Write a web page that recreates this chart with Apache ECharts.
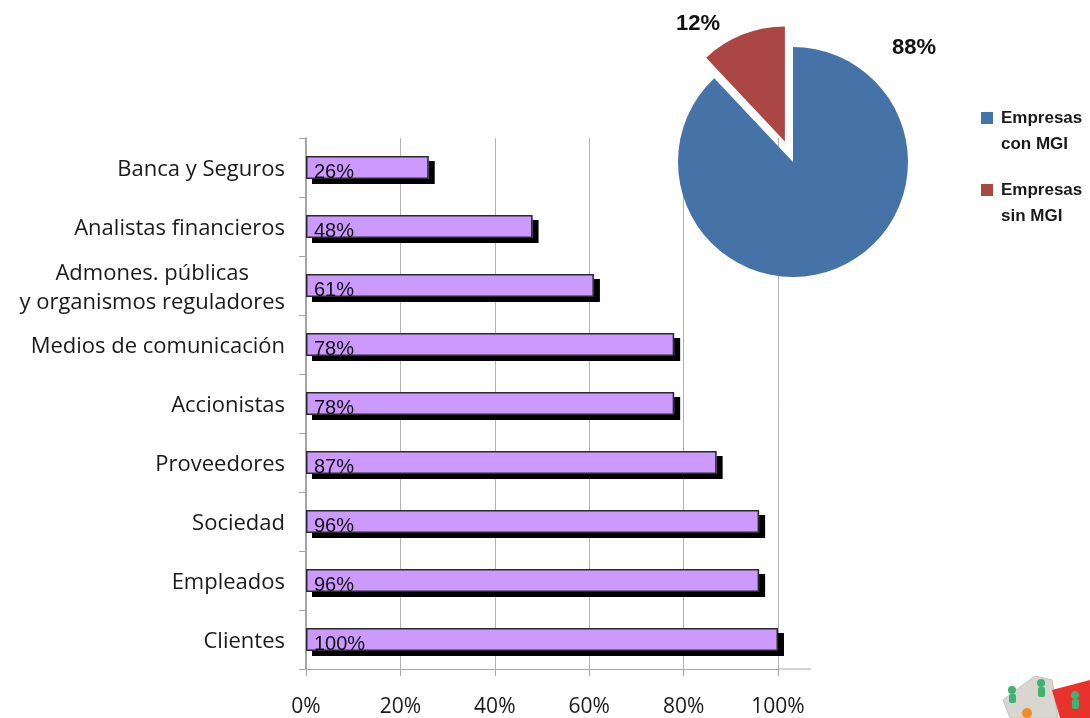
<!DOCTYPE html>
<html>
<head>
<meta charset="utf-8">
<script src="https://cdn.jsdelivr.net/npm/echarts@6/dist/echarts.min.js"></script>
<style>
html,body{margin:0;padding:0;background:#fff;}
#chart{width:1090px;height:718px;}
</style>
</head>
<body>
<div id="chart"></div>
<script>
// ---- data ----
var categories = ['Banca y Seguros', 'Analistas financieros', 'Admones. públicas\ny organismos reguladores',
  'Medios de comunicación', 'Accionistas', 'Proveedores', 'Sociedad', 'Empleados', 'Clientes'];
var barValues = [26, 48, 61, 78, 78, 87, 96, 96, 100];
var xTicks = [0, 20, 40, 60, 80, 100];
var pieNames = ['Empresas con MGI', 'Empresas sin MGI'];
var pieValues = [88, 12];
var pieColors = ['#4572A7', '#AA4643'];

var FONT = 'Liberation Sans';
var FONT2 = 'Open Sans';
var chart = echarts.init(document.getElementById('chart'), null, {renderer: 'canvas'});

var option = {
  animation: false,
  backgroundColor: '#fff',
  textStyle: {fontFamily: FONT},
  grid: {left: 306, right: 312, top: 138, bottom: 49, containLabel: false},
  xAxis: {
    type: 'value',
    min: xTicks[0], max: xTicks[xTicks.length - 1], interval: xTicks[1] - xTicks[0],
    axisLine: {show: true, lineStyle: {color: '#a6a6a6', width: 1}},
    axisTick: {show: true, length: 7, lineStyle: {color: '#a6a6a6'}},
    splitLine: {show: true, lineStyle: {color: '#b3b3b3', width: 1}},
    axisLabel: {formatter: '{value}%', fontSize: 21, color: '#1a1a1a', margin: 28, fontFamily: FONT2}
  },
  yAxis: {
    type: 'category',
    inverse: true,
    data: categories,
    axisLine: {show: true, lineStyle: {color: '#a6a6a6', width: 2}},
    axisTick: {show: true, length: 7, lineStyle: {color: '#a6a6a6'}},
    axisLabel: {
      fontSize: 22, color: '#1a1a1a', margin: 21, fontFamily: FONT2, lineHeight: 29,
      padding: [5, 0, 0, 0],
      formatter: function (v) {
        if (v.indexOf('\n') >= 0) {
          return v.split('\n').map(function (s) { return '{c|' + s + '}'; }).join('\n');
        }
        return v;
      },
      rich: {c: {align: 'center', fontSize: 22, color: '#1a1a1a', fontFamily: FONT2, lineHeight: 29}}
    }
  },
  legend: {
    orient: 'vertical',
    left: 981, top: 105, padding: 0,
    itemWidth: 12, itemHeight: 38, itemGap: 20,
    icon: 'path://M0,0L12,0L12,12L0,12Z M0,38L0,38',
    selectedMode: false,
    data: pieNames,
    formatter: function (n) { return n.replace(' ', '\n'); },
    textStyle: {fontSize: 17, fontWeight: 'bold', color: '#1a1a1a', lineHeight: 26, fontFamily: FONT, padding: [0, 0, 0, 3]}
  },
  series: [
    {
      type: 'bar',
      name: 'fill',
      data: barValues,
      barWidth: 23,
      barGap: '-100%',
      itemStyle: {
        color: '#CC99FF', borderWidth: 0,
        shadowColor: '#000', shadowBlur: 0, shadowOffsetX: 6, shadowOffsetY: 5
      },
      silent: true,
      z: 2
    },
    {
      type: 'bar',
      name: 'border',
      data: barValues,
      barWidth: 23,
      barGap: '-100%',
      itemStyle: {color: 'rgba(0,0,0,0)', borderColor: '#2b2b2b', borderWidth: 1.5},
      label: {
        show: true, position: 'insideLeft', offset: [3, 5],
        formatter: '{c}%', fontSize: 20, color: '#111', fontFamily: FONT
      },
      silent: true,
      z: 3
    },
    {
      type: 'pie',
      center: [793, 162],
      radius: 115,
      startAngle: 90,
      clockwise: true,
      selectedMode: 'single',
      selectedOffset: 22,
      silent: true,
      z: 5,
      itemStyle: {borderWidth: 0},
      label: {
        show: true, position: 'outside', formatter: '{d}%',
        fontSize: 22, fontWeight: 'bold', color: '#111', fontFamily: FONT
      },
      labelLine: {show: false},
      labelLayout: function (p) {
        return p.dataIndex === 0
          ? {x: 914, y: 48, align: 'center', verticalAlign: 'middle'}
          : {x: 698, y: 21, dx: -4, dy: 3, align: 'center', verticalAlign: 'middle'};
      },
      data: pieNames.map(function (n, i) {
        return {
          name: n, value: pieValues[i], selected: i === 1,
          itemStyle: {color: pieColors[i]},
          select: {itemStyle: {color: pieColors[i], borderWidth: 0}}
        };
      })
    }
  ],
  graphic: [
    {type: 'line', shape: {x1: 778, y1: 669, x2: 811, y2: 669}, style: {stroke: '#a6a6a6', lineWidth: 1}, silent: true},
    // small decorative clip-art (puzzle) in the bottom-right corner
    {type: 'group', silent: true, children: [
      {type: 'polygon', shape: {points: [[1003, 700], [1035, 676], [1052, 680], [1058, 718], [1010, 718]]},
        style: {fill: '#d9d6d2', stroke: '#c4c0bb', lineWidth: 1}},
      {type: 'polygon', shape: {points: [[1052, 690], [1090, 680], [1090, 718], [1060, 718]]},
        style: {fill: '#e8322b'}},
      {type: 'circle', shape: {cx: 1012, cy: 690, r: 4}, style: {fill: '#3cb371'}},
      {type: 'rect', shape: {x: 1009, y: 694, width: 7, height: 9, r: 2}, style: {fill: '#3cb371'}},
      {type: 'circle', shape: {cx: 1041, cy: 683, r: 4}, style: {fill: '#3cb371'}},
      {type: 'rect', shape: {x: 1038, y: 687, width: 7, height: 10, r: 2}, style: {fill: '#3cb371'}},
      {type: 'circle', shape: {cx: 1075, cy: 695, r: 4}, style: {fill: '#3cb371'}},
      {type: 'rect', shape: {x: 1072, y: 699, width: 7, height: 10, r: 2}, style: {fill: '#3cb371'}},
      {type: 'circle', shape: {cx: 1027, cy: 713, r: 5}, style: {fill: '#f28c28'}}
    ]}
  ]
};
chart.setOption(option);
</script>
</body>
</html>
